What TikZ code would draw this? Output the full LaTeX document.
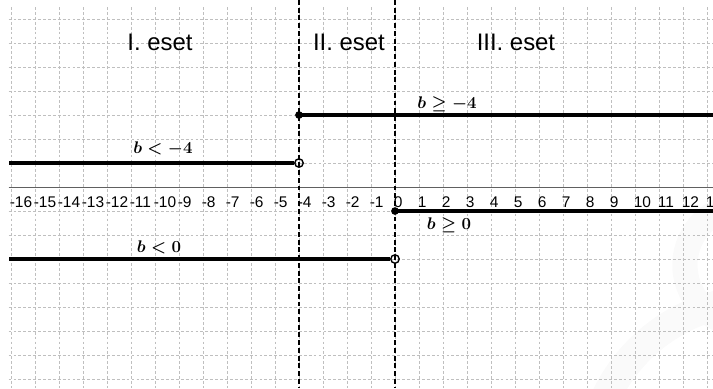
\documentclass[tikz,border=0pt]{standalone}
\usepackage{fontspec}
\setmainfont{Liberation Sans}
\begin{document}
\begin{tikzpicture}[x=0.6cm,y=0.6cm,
 gridline/.style={gray!50, line width=0.5pt, dash pattern=on 2pt off 1.5pt},
 axisline/.style={gray!75!black, line width=0.6pt},
 caseline/.style={black, line width=0.9pt, dash pattern=on 3.5pt off 2pt},
 ray/.style={black, line width=2.3pt},
 closeddot/.style={circle, fill=black, inner sep=0pt, minimum size=5.5pt},
 opendot/.style={circle, draw=black, line width=1pt, inner sep=0pt, minimum size=6pt},
 head/.style={font=\fontsize{17}{19}\selectfont, inner sep=0pt},
 ticklbl/.style={font=\fontsize{11}{13}\selectfont, anchor=north west, inner sep=0pt},
 cond/.style={font=\boldmath\fontsize{12}{14}\selectfont, inner sep=1pt},
 wmark/.style={gray!4}]
\useasboundingbox (-16.458,-8.375) rectangle (13.25,7.792);
\begin{scope}
\clip (-16.458,-8.375) rectangle (13.25,7.792);
\draw[wmark, line width=18pt] ([shift={(100:2.5)}]14.58,-3.25) arc (100:260:2.5);
\draw[wmark, line width=21pt] ([shift={(95:7.1)}]15.2,-11.8) arc (95:165:7.1);
\end{scope}
% grid
\foreach \i in {-16,...,13} \draw[gridline] (\i,7.5) -- (\i,-8.375);
\foreach \j in {-8,...,7} \draw[gridline] (-16.1,\j) -- (13.25,\j);
% axis
\coordinate (axl) at (-16.1,0);
\coordinate (axr) at (13.25,0);
\draw[axisline] (axl) -- (axr);
\foreach \k in {-16,...,13} \node[ticklbl] (t\k) at (\k-0.06,-0.4) {\k};
% case separators
\coordinate (v1t) at (-4,7.792);
\coordinate (v1b) at (-4,-8.375);
\coordinate (v2t) at (0,7.792);
\coordinate (v2b) at (0,-8.375);
\draw[caseline] (v1t) -- (v1b);
\draw[caseline] (v2t) -- (v2b);
% headers
\node[head] (h1) at (-9.79,6.02) {I. eset};
\node[head] (h2) at (-1.92,6.02) {II. eset};
\node[head] (h3) at (5.04,6.02) {III. eset};
% rays
\node[closeddot] (a) at (-4,3) {};
\coordinate (ae) at (13.25,3);
\draw[ray] (a.center) -- (ae);
\node[opendot] (b) at (-4,1) {};
\coordinate (bs) at (-16.08,1);
\draw[ray] (bs) -- (b.west);
\node[closeddot] (c) at (0,-1) {};
\coordinate (ce) at (13.25,-1);
\draw[ray] (c.center) -- (ce);
\node[opendot] (d) at (0,-3) {};
\coordinate (ds) at (-16.08,-3);
\draw[ray] (ds) -- (d.west);
% conditions
\node[cond] (l1) at (2.17,3.45) {$b\geq -4$};
\node[cond] (l2) at (-9.67,1.6) {$b< -4$};
\node[cond] (l3) at (2.25,-1.6) {$b\geq 0$};
\node[cond] (l4) at (-9.83,-2.5) {$b< 0$};
\end{tikzpicture}
\end{document}
